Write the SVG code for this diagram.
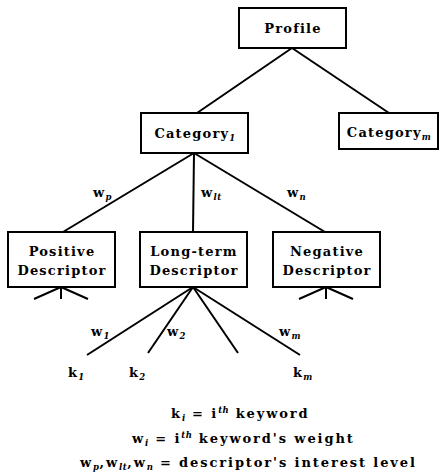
<svg xmlns="http://www.w3.org/2000/svg" width="444" height="473" viewBox="0 0 444 473">
<style>
.box{fill:#fff;stroke:#000;stroke-width:2}
.ln{stroke:#000;stroke-width:2;fill:none}
text{font-family:"DejaVu Serif","Liberation Serif",serif;font-weight:bold;font-size:13px;letter-spacing:1.2px;fill:#000}
.c{text-anchor:middle}
.s{font-size:8.5px;font-style:italic;letter-spacing:0.5px}
.lg{letter-spacing:1.9px}
</style>
<rect width="444" height="473" fill="#fff"/>
<g id="connectors">
<line class="ln" x1="292" y1="48" x2="197" y2="113"/>
<line class="ln" x1="292" y1="48" x2="389" y2="113"/>
<line class="ln" x1="194" y1="153" x2="63" y2="232"/>
<line class="ln" x1="194" y1="153" x2="193" y2="232"/>
<line class="ln" x1="194" y1="153" x2="325" y2="232"/>
<line class="ln" x1="61" y1="287" x2="34" y2="299"/>
<line class="ln" x1="61" y1="287" x2="61" y2="299"/>
<line class="ln" x1="61" y1="287" x2="88" y2="299"/>
<line class="ln" x1="326" y1="287" x2="299" y2="299"/>
<line class="ln" x1="326" y1="287" x2="326" y2="299"/>
<line class="ln" x1="326" y1="287" x2="353" y2="299"/>
<line class="ln" x1="193" y1="287" x2="87" y2="355"/>
<line class="ln" x1="193" y1="287" x2="148" y2="353"/>
<line class="ln" x1="193" y1="287" x2="238" y2="353"/>
<line class="ln" x1="193" y1="287" x2="300" y2="355"/>
<text x="93" y="197">w<tspan class="s" dy="3">p</tspan></text>
<text x="201" y="197">w<tspan class="s" dy="3">lt</tspan></text>
<text x="287" y="197">w<tspan class="s" dy="3">n</tspan></text>
<text x="91" y="336">w<tspan class="s" dy="3">1</tspan></text>
<text x="167" y="336">w<tspan class="s" dy="3">2</tspan></text>
<text x="279" y="336">w<tspan class="s" dy="3">m</tspan></text>
</g>
<g id="profile">
<rect class="box" x="239" y="8" width="107" height="40"/>
<text class="c" x="293" y="33">Profile</text>
</g>
<g id="category1">
<rect class="box" x="141" y="113" width="107" height="40"/>
<text class="c" x="195" y="138">Category<tspan class="s" dy="3">1</tspan></text>
</g>
<g id="categorym">
<rect class="box" x="339" y="113" width="99" height="36"/>
<text class="c" x="389" y="137">Category<tspan class="s" dy="3">m</tspan></text>
</g>
<g id="positive">
<rect class="box" x="8" y="232" width="107" height="55"/>
<text class="c" x="62" y="256">Positive</text>
<text class="c" x="62" y="275">Descriptor</text>
</g>
<g id="longterm">
<rect class="box" x="140" y="232" width="107" height="55"/>
<text class="c" x="194" y="256">Long-term</text>
<text class="c" x="194" y="275">Descriptor</text>
</g>
<g id="negative">
<rect class="box" x="273" y="232" width="107" height="55"/>
<text class="c" x="327" y="256">Negative</text>
<text class="c" x="327" y="275">Descriptor</text>
</g>
<g id="k1"><text x="68" y="377">k<tspan class="s" dy="3">1</tspan></text></g>
<g id="k2"><text x="129" y="377">k<tspan class="s" dy="3">2</tspan></text></g>
<g id="km"><text x="293" y="377">k<tspan class="s" dy="3">m</tspan></text></g>
<g id="legend">
<text class="lg" x="171" y="418">k<tspan class="s" dy="3">i</tspan><tspan dy="-3"> = i</tspan><tspan class="s" dy="-5">th</tspan><tspan dy="5"> keyword</tspan></text>
<text class="lg" x="132" y="443">w<tspan class="s" dy="3">i</tspan><tspan dy="-3"> = i</tspan><tspan class="s" dy="-5">th</tspan><tspan dy="5"> keyword's weight</tspan></text>
<text class="lg" x="80" y="467">w<tspan class="s" dy="3">p</tspan><tspan dy="-3">,w</tspan><tspan class="s" dy="3">lt</tspan><tspan dy="-3">,w</tspan><tspan class="s" dy="3">n</tspan><tspan dy="-3"> = descriptor's interest level</tspan></text>
</g>
</svg>
